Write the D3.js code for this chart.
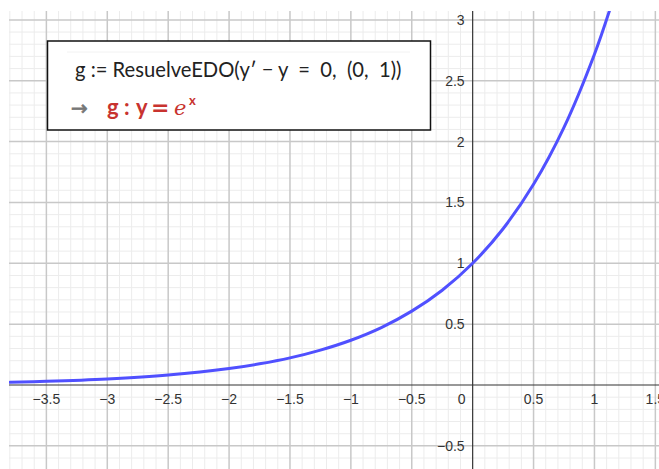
<!DOCTYPE html>
<html>
<head>
<meta charset="utf-8">
<script src="https://cdn.jsdelivr.net/npm/d3@7"></script>
<style>
  html, body { margin: 0; padding: 0; background: #fff; }
  svg { display: block; }
  .tick-label { font-family: "Liberation Sans", Arial, sans-serif; font-size: 14px; fill: #333; }
</style>
</head>
<body>
<div id="chart"></div>
<script>
(function () {

    // --- data ---
    const curveX = [-3.8, -3.5, -3.0, -2.5, -2.0, -1.75, -1.5, -1.25, -1.0, -0.75, -0.5, -0.25, 0, 0.25, 0.5, 0.75, 1.0, 1.15];
    const curveY = [0.022, 0.030, 0.050, 0.082, 0.135, 0.174, 0.223, 0.287, 0.368, 0.472, 0.607, 0.779, 1.0, 1.284, 1.649, 2.117, 2.718, 3.158];

    const xTicks = [-3.5, -3, -2.5, -2, -1.5, -1, -0.5, 0.5, 1, 1.5];
    const yTicks = [-0.5, 0.5, 1, 1.5, 2, 2.5, 3];
    const xDomain = [-3.807, 1.53];
    const yDomain = [-0.69, 3.073];

    const legendLine1 = "g := ResuelveEDO(y\u2032 \u2212 y  =  0,  (0,  1))";
    const legendArrow = "\u2192";
    // pieces of the second legend line, with their left offsets
    const legendPieces = [
        { t: "g", dx: 0, f: "Lato" }, { t: ":", dx: 17, f: "Lato" },
        { t: "y", dx: 29, f: "Lato" }, { t: "=", dx: 44, f: "DejaVu Sans" }
    ];

    // --- setup ---
    const W = 659, H = 469;
    const plot = { left: 9, top: 11, right: 659, bottom: 469 };

    const svg = d3.select("#chart").append("svg")
        .attr("width", W)
        .attr("height", H);

    const x = d3.scaleLinear().domain(xDomain).range([plot.left, plot.right]);
    const y = d3.scaleLinear().domain(yDomain).range([plot.bottom, plot.top]);

    svg.append("clipPath").attr("id", "clip")
        .append("rect")
        .attr("x", plot.left).attr("y", plot.top)
        .attr("width", plot.right - plot.left).attr("height", plot.bottom - plot.top);

    const g = svg.append("g").attr("clip-path", "url(#clip)");

    // grid: minor every 0.1, major every 0.5
    const minorX = d3.range(-38, 16).map(d => d / 10);
    const minorY = d3.range(-7, 31).map(d => d / 10);
    const isMajor = v => Math.abs(v * 2 - Math.round(v * 2)) < 1e-6;

    g.append("g").selectAll("line")
        .data(minorX.filter(v => !isMajor(v)))
        .join("line")
        .attr("x1", d => x(d)).attr("x2", d => x(d))
        .attr("y1", plot.top).attr("y2", plot.bottom)
        .attr("stroke", "#ececec").attr("stroke-width", 1);

    g.append("g").selectAll("line")
        .data(minorY.filter(v => !isMajor(v)))
        .join("line")
        .attr("y1", d => y(d)).attr("y2", d => y(d))
        .attr("x1", plot.left).attr("x2", plot.right)
        .attr("stroke", "#ececec").attr("stroke-width", 1);

    g.append("g").selectAll("line")
        .data(minorX.filter(v => isMajor(v) && Math.abs(v) > 1e-6))
        .join("line")
        .attr("x1", d => x(d)).attr("x2", d => x(d))
        .attr("y1", plot.top).attr("y2", plot.bottom)
        .attr("stroke", "#c8c8c8").attr("stroke-width", 1.5);

    g.append("g").selectAll("line")
        .data(minorY.filter(v => isMajor(v) && Math.abs(v) > 1e-6))
        .join("line")
        .attr("y1", d => y(d)).attr("y2", d => y(d))
        .attr("x1", plot.left).attr("x2", plot.right)
        .attr("stroke", "#c8c8c8").attr("stroke-width", 1.5);

    // axes
    g.append("line")
        .attr("x1", plot.left).attr("x2", plot.right)
        .attr("y1", y(0)).attr("y2", y(0))
        .attr("stroke", "#333").attr("stroke-width", 1.2);
    g.append("line")
        .attr("x1", x(0)).attr("x2", x(0))
        .attr("y1", plot.top).attr("y2", plot.bottom)
        .attr("stroke", "#333").attr("stroke-width", 1.2);

    // tick labels
    const fmt = v => (v < 0 ? "\u2212" : "") + Math.abs(v);

    g.append("g").selectAll("text")
        .data(xTicks)
        .join("text")
        .attr("class", "tick-label")
        .attr("x", d => x(d))
        .attr("y", y(0) + 19)
        .attr("text-anchor", "middle")
        .text(fmt);

    g.append("text")
        .attr("class", "tick-label")
        .attr("x", x(0) - 7)
        .attr("y", y(0) + 19)
        .attr("text-anchor", "end")
        .text("0");

    g.append("g").selectAll("text")
        .data(yTicks)
        .join("text")
        .attr("class", "tick-label")
        .attr("x", x(0) - 8)
        .attr("y", d => y(d) + 5)
        .attr("text-anchor", "end")
        .text(fmt);

    // the curve
    const line = d3.line()
        .x(d => x(d[0]))
        .y(d => y(d[1]))
        .curve(d3.curveCatmullRom.alpha(0.5));

    g.append("path")
        .datum(curveX.map((v, i) => [v, curveY[i]]))
        .attr("d", line)
        .attr("fill", "none")
        .attr("stroke", "#5050ff")
        .attr("stroke-width", 3)
        .attr("stroke-linecap", "round");

    // --- legend box ---
    const box = { x: 47.5, y: 41, w: 383, h: 89 };
    const lg = svg.append("g");
    lg.append("rect")
        .attr("x", box.x).attr("y", box.y)
        .attr("width", box.w).attr("height", box.h)
        .attr("fill", "#fff")
        .attr("stroke", "#111").attr("stroke-width", 1.5);

    lg.append("line")
        .attr("x1", 67).attr("x2", 410)
        .attr("y1", 52).attr("y2", 52)
        .attr("stroke", "#f2f2f2").attr("stroke-width", 1);

    lg.append("text")
        .attr("x", 75).attr("y", 77)
        .attr("xml:space", "preserve")
        .style("white-space", "pre")
        .attr("font-family", "Lato, 'Open Sans', sans-serif")
        .attr("font-size", 20.2)
        .attr("fill", "#222")
        .text(legendLine1);

    lg.append("text")
        .attr("x", 71).attr("y", 115)
        .attr("font-family", "'DejaVu Sans', sans-serif")
        .attr("font-size", 20)
        .attr("fill", "#777")
        .attr("stroke", "#777").attr("stroke-width", 0.7)
        .text(legendArrow);

    const red = "#c8332f";
    const x0 = 107, base = 115;
    lg.append("g").selectAll("text")
        .data(legendPieces)
        .join("text")
        .attr("x", d => x0 + d.dx).attr("y", base)
        .attr("font-family", d => `'${d.f}', sans-serif`)
        .attr("font-weight", "bold")
        .attr("font-size", 22)
        .attr("fill", red)
        .text(d => d.t);

    lg.append("text")
        .attr("x", x0 + 67).attr("y", base)
        .attr("font-family", "'DejaVu Serif', 'Liberation Serif', serif")
        .attr("font-style", "italic")
        .attr("font-size", 21)
        .attr("fill", red)
        .text("e");
    lg.append("text")
        .attr("x", x0 + 82).attr("y", base - 10)
        .attr("font-family", "Lato, sans-serif")
        .attr("font-weight", "bold")
        .attr("font-size", 13)
        .attr("fill", red)
        .text("x");

})();
</script>
</body>
</html>
